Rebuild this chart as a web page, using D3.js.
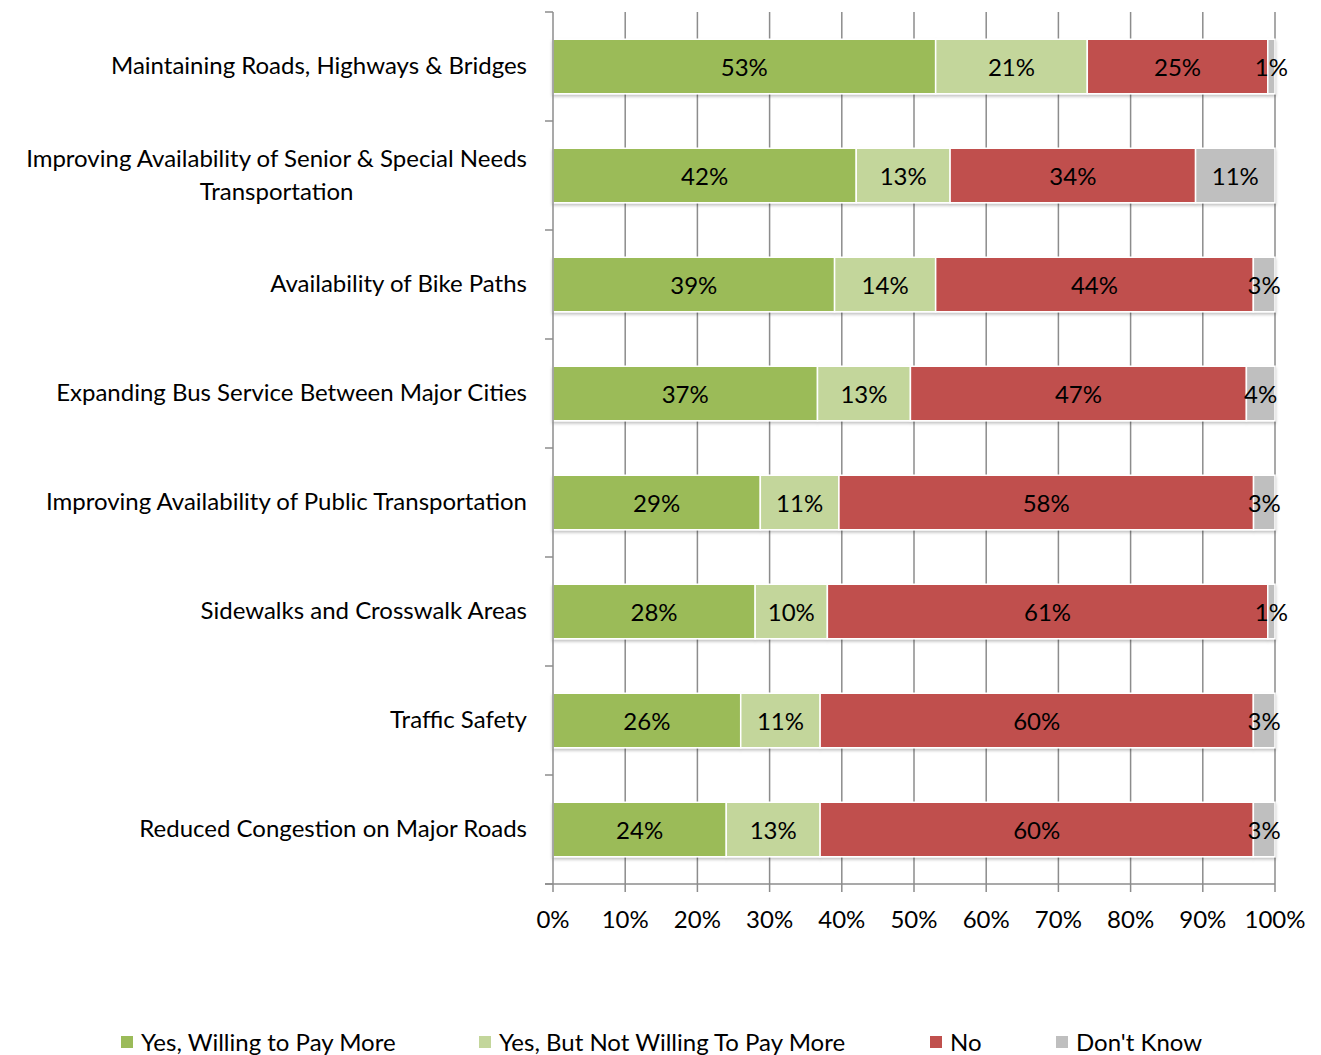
<!DOCTYPE html>
<html>
<head>
<meta charset="utf-8">
<script src="https://cdn.jsdelivr.net/npm/d3@7"></script>
<style>
  body { margin: 0; background: #fff; }
  text { font-family: Lato, "Open Sans", sans-serif; fill: #000; }
</style>
</head>
<body>
<div id="wrapper"></div>
<script>
// data
const categories = [
  "Maintaining Roads, Highways & Bridges",
  "Improving Availability of Senior & Special Needs|Transportation",
  "Availability of Bike Paths",
  "Expanding Bus Service Between Major Cities",
  "Improving Availability of Public Transportation",
  "Sidewalks and Crosswalk Areas",
  "Traffic Safety",
  "Reduced Congestion on Major Roads",
];
const seriesNames = ["Yes, Willing to Pay More", "Yes, But Not Willing To Pay More", "No", "Don't Know"];
const willingPay = [53, 42, 39, 37, 29, 28, 26, 24];
const notWillingPay = [21, 13, 14, 13, 11, 10, 11, 13];
const no = [25, 34, 44, 47, 58, 61, 60, 60];
const dontKnow = [1, 11, 3, 4, 3, 1, 3, 3];
const tickValues = [0, 0.1, 0.2, 0.3, 0.4, 0.5, 0.6, 0.7, 0.8, 0.9, 1];
const colors = ["#9bbb59", "#c3d69b", "#c0504d", "#bfbfbf"];

const seriesArrays = [willingPay, notWillingPay, no, dontKnow];
const dataset = categories.map((c, i) => {
  const row = { category: c };
  seriesNames.forEach((s, j) => (row[s] = seriesArrays[j][i]));
  return row;
});

const fontSize = "24px";

// dimensions
const dimensions = {
  width: 1321,
  height: 1055,
  margin: { top: 12, right: 46, bottom: 171, left: 553 },
};
dimensions.boundedWidth = dimensions.width - dimensions.margin.left - dimensions.margin.right;
dimensions.boundedHeight = dimensions.height - dimensions.margin.top - dimensions.margin.bottom;

const svg = d3.select("#wrapper").append("svg")
  .attr("width", dimensions.width)
  .attr("height", dimensions.height);

const defs = svg.append("defs");
const shadow = defs.append("filter").attr("id", "shadow")
  .attr("x", "-5%").attr("y", "-20%").attr("width", "110%").attr("height", "150%");
shadow.append("feDropShadow")
  .attr("dx", 0).attr("dy", 2).attr("stdDeviation", 1.5)
  .attr("flood-color", "#000").attr("flood-opacity", 0.25);

const bounds = svg.append("g")
  .attr("transform", `translate(${dimensions.margin.left},${dimensions.margin.top})`);

// scales
const xScale = d3.scaleLinear().domain([0, 1]).range([0, dimensions.boundedWidth]);
const yScale = d3.scaleBand()
  .domain(categories)
  .range([0, dimensions.boundedHeight])
  .paddingInner(0.5)
  .paddingOuter(0.25);

const stacked = d3.stack().keys(seriesNames).offset(d3.stackOffsetExpand)(dataset);

// gridlines
bounds.append("g").selectAll("line")
  .data(tickValues.slice(1))
  .join("line")
  .attr("x1", (d) => xScale(d)).attr("x2", (d) => xScale(d))
  .attr("y1", 0).attr("y2", dimensions.boundedHeight)
  .attr("stroke", "#8c8c8c").attr("stroke-width", 1.5);

// bars
const layers = bounds.append("g").attr("filter", "url(#shadow)")
  .selectAll("g")
  .data(stacked)
  .join("g")
  .attr("fill", (d, i) => colors[i]);

layers.selectAll("rect")
  .data((d) => d)
  .join("rect")
  .attr("x", (d) => xScale(d[0]))
  .attr("width", (d) => xScale(d[1]) - xScale(d[0]))
  .attr("y", (d) => yScale(d.data.category))
  .attr("height", yScale.bandwidth())
  .attr("stroke", "#fff")
  .attr("stroke-width", 1.5);

// value labels
stacked.forEach((layer) => {
  bounds.append("g").selectAll("text")
    .data(layer)
    .join("text")
    .attr("x", (d) => (xScale(d[0]) + xScale(d[1])) / 2)
    .attr("y", (d) => yScale(d.data.category) + yScale.bandwidth() / 2)
    .attr("text-anchor", "middle")
    .attr("dominant-baseline", "central")
    .style("font-size", fontSize)
    .text((d) => `${d.data[layer.key]}%`);
});

// y axis
const yAxis = bounds.append("g");
yAxis.append("line")
  .attr("x1", 0).attr("x2", 0).attr("y1", 0).attr("y2", dimensions.boundedHeight)
  .attr("stroke", "#8c8c8c").attr("stroke-width", 1.5);
const step = yScale.step();
yAxis.selectAll(".ytick")
  .data(d3.range(categories.length + 1))
  .join("line")
  .attr("x1", -8).attr("x2", 0)
  .attr("y1", (i) => i * step).attr("y2", (i) => i * step)
  .attr("stroke", "#8c8c8c").attr("stroke-width", 1.5);

const labels = yAxis.selectAll(".ylabel")
  .data(categories)
  .join("text")
  .attr("class", "ylabel")
  .style("font-size", fontSize)
  .attr("text-anchor", "middle");

labels.each(function (d) {
  const lines = d.split("|");
  const sel = d3.select(this);
  const cy = yScale(d) + yScale.bandwidth() / 2;
  const lineH = 33;
  lines.forEach((l, k) => {
    sel.append("tspan").attr("y", cy + (k - (lines.length - 1) / 2) * lineH - 2)
      .attr("dominant-baseline", "central").text(l);
  });
  let maxW = 0;
  sel.selectAll("tspan").each(function () {
    maxW = Math.max(maxW, this.getComputedTextLength());
  });
  sel.selectAll("tspan").attr("x", -26 - maxW / 2);
});

// x axis
const xAxis = bounds.append("g").attr("transform", `translate(0,${dimensions.boundedHeight})`);
xAxis.append("line")
  .attr("x1", -8).attr("x2", dimensions.boundedWidth)
  .attr("stroke", "#8c8c8c").attr("stroke-width", 1.5);
xAxis.selectAll(".xtick")
  .data(tickValues)
  .join("line")
  .attr("x1", (d) => xScale(d)).attr("x2", (d) => xScale(d))
  .attr("y1", 0).attr("y2", 8)
  .attr("stroke", "#8c8c8c").attr("stroke-width", 1.5);
xAxis.selectAll(".xlabel")
  .data(tickValues)
  .join("text")
  .attr("x", (d) => xScale(d))
  .attr("y", 34)
  .attr("text-anchor", "middle")
  .attr("dominant-baseline", "central")
  .style("font-size", fontSize)
  .text(d3.format(".0%"));

// legend
const legendX = [121, 479, 930, 1056];
const legend = svg.append("g").attr("transform", "translate(0,1042)");
const items = legend.selectAll("g")
  .data(seriesNames)
  .join("g")
  .attr("transform", (d, i) => `translate(${legendX[i]},0)`);
items.append("rect")
  .attr("x", 0).attr("y", -6).attr("width", 12).attr("height", 12)
  .attr("fill", (d, i) => colors[i]);
items.append("text")
  .attr("x", 20).attr("y", -1)
  .attr("dominant-baseline", "central")
  .style("font-size", fontSize)
  .text((d) => d);
</script>
</body>
</html>
